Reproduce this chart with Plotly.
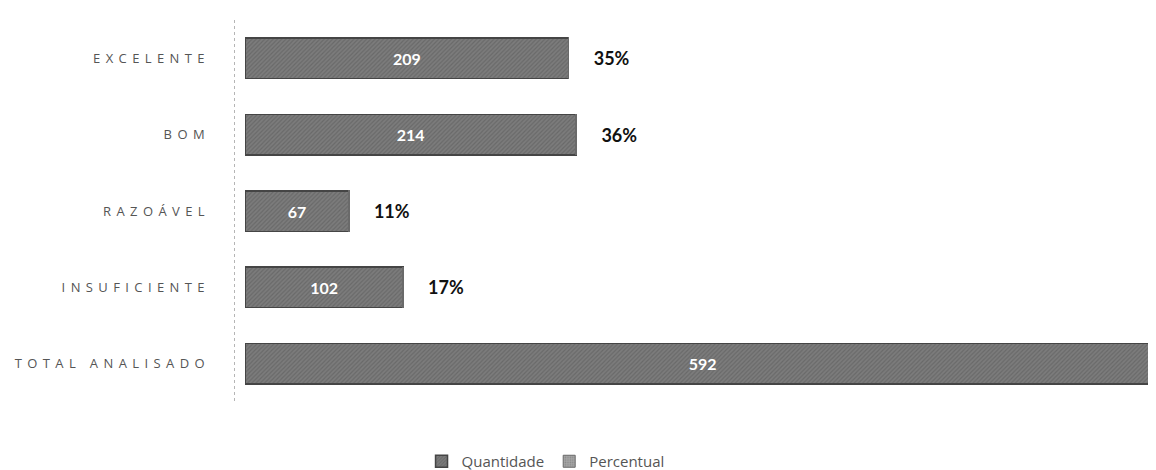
import plotly.graph_objects as go

categorias = ["EXCELENTE", "BOM", "RAZOÁVEL", "INSUFICIENTE", "TOTAL ANALISADO"]
quantidade = [209, 214, 67, 102, 592]
percentual = [0.35, 0.36, 0.11, 0.17, None]

fig = go.Figure()
fig.add_trace(go.Bar(
    name="Quantidade", y=categorias, x=quantidade, orientation="h",
    marker=dict(color="#707070", line=dict(color="#454545", width=1.5),
                pattern=dict(shape="/", fgcolor="#555555", bgcolor="#7c7c7c", size=3, solidity=0.4)),
    text=[str(v) for v in quantidade], textposition="inside", insidetextanchor="middle",
    textfont=dict(family="Lato", size=16, color="white", weight="bold"),
    constraintext="none",
))
fig.add_trace(go.Bar(
    name="Percentual", y=categorias, x=percentual, orientation="h",
    marker=dict(color="#9a9a9a", line=dict(color="#6a6a6a", width=1),
                pattern=dict(shape=".", fgcolor="#6a6a6a", bgcolor="#a5a5a5", size=3, solidity=0.3)),
    texttemplate="\u00a0\u00a0\u00a0\u00a0\u00a0%{x:.0%}", textposition="outside",
    textfont=dict(family="Lato", size=18, color="#111111", weight="bold"),
    cliponaxis=False,
))

fig.update_layout(
    width=1156, height=470, barmode="stack", bargap=0.47,
    paper_bgcolor="white", plot_bgcolor="white",
    margin=dict(l=225, r=4, t=12, b=76),
    font=dict(family="Open Sans", color="#555555"),
    legend=dict(orientation="h", xref="container", yref="container", x=0.465, y=0.0,
                xanchor="center", yanchor="bottom", font=dict(size=15, color="#555555"),
                traceorder="normal"),
    xaxis=dict(range=[-8, 592], tickvals=[-7.3], showticklabels=False, showgrid=True,
               gridcolor="#b5b5b5", griddash="dot", gridwidth=1, zeroline=False, showline=False,
               automargin=False),
    yaxis=dict(autorange="reversed", tickfont=dict(family="Open Sans", size=13, color="#555555"),
               ticks="", ticklabelstandoff=22, showline=False, showgrid=False, automargin=False),
)

post = """
var gd = document.getElementById('{plot_id}');
function spaceTicks(){
  gd.querySelectorAll('.ytick text').forEach(function(t){ t.style.letterSpacing='5.4px'; });
}
spaceTicks();
gd.on('plotly_afterplot', spaceTicks);
"""
fig.write_html("out.html", post_script=post)
